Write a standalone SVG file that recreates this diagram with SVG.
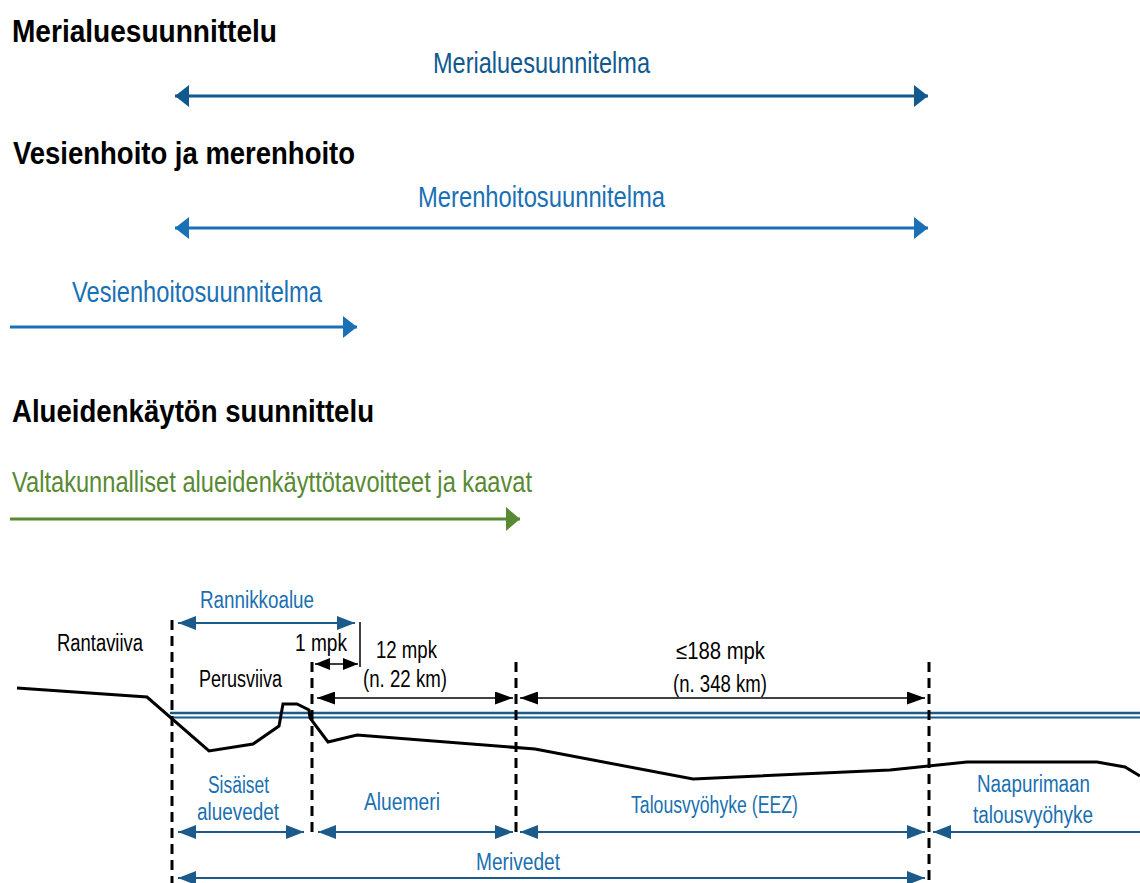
<svg xmlns="http://www.w3.org/2000/svg" width="1140" height="883" viewBox="0 0 1140 883">
<style>
text{font-family:"Liberation Sans Narrow","Liberation Sans",Arial,sans-serif;}
.h{font-size:31px;font-weight:bold;fill:#000;}
.bl{font-size:30px;}
.s{font-size:23px;fill:#000;}
.sb{font-size:23px;fill:#1a70b0;}
.dk{fill:#10598f;}
.lt{fill:#1a70b5;}
.gr{fill:#578a32;}
.dash{stroke:#000;stroke-width:3;stroke-dasharray:10 6;fill:none;}
.ab{stroke:#1b5b8c;stroke-width:2;fill:none;}
.ak{stroke:#000;stroke-width:1.5;fill:none;}
</style>
<defs>
<marker id="mDk" markerUnits="userSpaceOnUse" markerWidth="14" markerHeight="22" viewBox="0 0 14 22" refX="14" refY="11" orient="auto-start-reverse"><path d="M0,0 L14,11 L0,22 z" fill="#10598f"/></marker>
<marker id="mLt" markerUnits="userSpaceOnUse" markerWidth="14" markerHeight="22" viewBox="0 0 14 22" refX="14" refY="11" orient="auto-start-reverse"><path d="M0,0 L14,11 L0,22 z" fill="#1a70b5"/></marker>
<marker id="mGr" markerUnits="userSpaceOnUse" markerWidth="14" markerHeight="24" viewBox="0 0 14 24" refX="14" refY="12" orient="auto-start-reverse"><path d="M0,0 L14,12 L0,24 z" fill="#578a32"/></marker>
<marker id="mB" markerUnits="userSpaceOnUse" markerWidth="18" markerHeight="14" viewBox="0 0 18 14" refX="18" refY="7" orient="auto-start-reverse"><path d="M0,0 L18,7 L0,14 z" fill="#1b5b8c"/></marker>
<marker id="mK" markerUnits="userSpaceOnUse" markerWidth="18" markerHeight="13" viewBox="0 0 18 13" refX="18" refY="6.5" orient="auto-start-reverse"><path d="M0,0 L18,6.5 L0,13 z" fill="#000"/></marker>
<marker id="mKs" markerUnits="userSpaceOnUse" markerWidth="15" markerHeight="12" viewBox="0 0 15 12" refX="15" refY="6" orient="auto-start-reverse"><path d="M0,0 L15,6 L0,12 z" fill="#000"/></marker>
</defs>

<g id="headings">
<text class="h" x="12" y="42" textLength="265" lengthAdjust="spacingAndGlyphs">Merialuesuunnittelu</text>
<text class="h" x="13" y="164" textLength="342" lengthAdjust="spacingAndGlyphs">Vesienhoito ja merenhoito</text>
<text class="h" x="12" y="422" textLength="362" lengthAdjust="spacingAndGlyphs">Alueidenkäytön suunnittelu</text>
</g>

<g id="plan-merialue">
<text class="bl dk" x="433" y="73" textLength="217" lengthAdjust="spacingAndGlyphs">Merialuesuunnitelma</text>
</g>
<g id="plan-merenhoito">
<text class="bl lt" x="418" y="207" textLength="247" lengthAdjust="spacingAndGlyphs">Merenhoitosuunnitelma</text>
</g>
<g id="plan-vesienhoito">
<text class="bl lt" x="72" y="302" textLength="250" lengthAdjust="spacingAndGlyphs">Vesienhoitosuunnitelma</text>
</g>
<g id="plan-valtakunnalliset">
<text class="bl gr" x="12" y="492" textLength="520" lengthAdjust="spacingAndGlyphs">Valtakunnalliset alueidenkäyttötavoitteet ja kaavat</text>
</g>

<g id="profile">
<line x1="170" y1="713" x2="1140" y2="713" stroke="#1b5b8c" stroke-width="2.5"/>
<line x1="170" y1="717.5" x2="1140" y2="717.5" stroke="#1b5b8c" stroke-width="2"/>
<polyline points="17,688 147,697 209,751 253,744 279,726 283,704 297,704 309,710 310,718 328,742 357,735 535,749 693,779 890,770 967,762 1097,762 1125,767 1140,776" fill="none" stroke="#000" stroke-width="3" stroke-linejoin="miter"/>
<line x1="360" y1="622" x2="360" y2="667" stroke="#000" stroke-width="1.5"/>
</g>

<g id="boundaries">
<line class="dash" x1="172" y1="620" x2="172" y2="883"/>
<line class="dash" x1="312" y1="662" x2="312" y2="838"/>
<line class="dash" x1="516" y1="662" x2="516" y2="838"/>
<line class="dash" x1="929" y1="662" x2="929" y2="883"/>
</g>

<g id="labels">
<text class="sb" x="200" y="608" textLength="114" lengthAdjust="spacingAndGlyphs">Rannikkoalue</text>
<text class="s" x="57" y="651" textLength="86" lengthAdjust="spacingAndGlyphs">Rantaviiva</text>
<text class="s" x="295" y="651" textLength="52" lengthAdjust="spacingAndGlyphs">1 mpk</text>
<text class="s" x="199" y="687" textLength="83" lengthAdjust="spacingAndGlyphs">Perusviiva</text>
<text class="s" x="376" y="658" textLength="61" lengthAdjust="spacingAndGlyphs">12 mpk</text>
<text class="s" x="363" y="687" textLength="84" lengthAdjust="spacingAndGlyphs">(n. 22 km)</text>
<text class="s" x="676" y="659" textLength="89" lengthAdjust="spacingAndGlyphs">≤188 mpk</text>
<text class="s" x="673" y="692" textLength="94" lengthAdjust="spacingAndGlyphs">(n. 348 km)</text>
<text class="sb" x="208" y="793" textLength="61" lengthAdjust="spacingAndGlyphs">Sisäiset</text>
<text class="sb" x="197" y="820" textLength="82" lengthAdjust="spacingAndGlyphs">aluevedet</text>
<text class="sb" x="364" y="810" textLength="76" lengthAdjust="spacingAndGlyphs">Aluemeri</text>
<text class="sb" x="631" y="813" textLength="167" lengthAdjust="spacingAndGlyphs">Talousvyöhyke (EEZ)</text>
<text class="sb" x="977" y="792" textLength="113" lengthAdjust="spacingAndGlyphs">Naapurimaan</text>
<text class="sb" x="973" y="823" textLength="120" lengthAdjust="spacingAndGlyphs">talousvyöhyke</text>
<text class="sb" x="476" y="870" textLength="84" lengthAdjust="spacingAndGlyphs">Merivedet</text>
</g>

<g id="connectors">
<line x1="175" y1="96" x2="928" y2="96" stroke="#10598f" stroke-width="3" marker-start="url(#mDk)" marker-end="url(#mDk)"/>
<line x1="175" y1="228" x2="928" y2="228" stroke="#1a70b5" stroke-width="3" marker-start="url(#mLt)" marker-end="url(#mLt)"/>
<line x1="10" y1="327" x2="357" y2="327" stroke="#1a70b5" stroke-width="3" marker-end="url(#mLt)"/>
<line x1="10" y1="519" x2="520" y2="519" stroke="#578a32" stroke-width="3" marker-end="url(#mGr)"/>
<line class="ab" x1="178" y1="623" x2="355" y2="623" marker-start="url(#mB)" marker-end="url(#mB)"/>
<line class="ak" x1="315" y1="664" x2="358" y2="664" marker-start="url(#mKs)" marker-end="url(#mKs)"/>
<line class="ak" x1="317" y1="698" x2="513" y2="698" marker-start="url(#mK)" marker-end="url(#mK)"/>
<line class="ak" x1="520" y1="698" x2="925" y2="698" marker-start="url(#mK)" marker-end="url(#mK)"/>
<line class="ab" x1="178" y1="832" x2="304" y2="832" marker-start="url(#mB)" marker-end="url(#mB)"/>
<line class="ab" x1="318" y1="832" x2="513" y2="832" marker-start="url(#mB)" marker-end="url(#mB)"/>
<line class="ab" x1="520" y1="832" x2="925" y2="832" marker-start="url(#mB)" marker-end="url(#mB)"/>
<line class="ab" x1="933" y1="832" x2="1140" y2="832" marker-start="url(#mB)"/>
<line class="ab" x1="178" y1="878" x2="925" y2="878" marker-start="url(#mB)" marker-end="url(#mB)"/>
</g>
</svg>
